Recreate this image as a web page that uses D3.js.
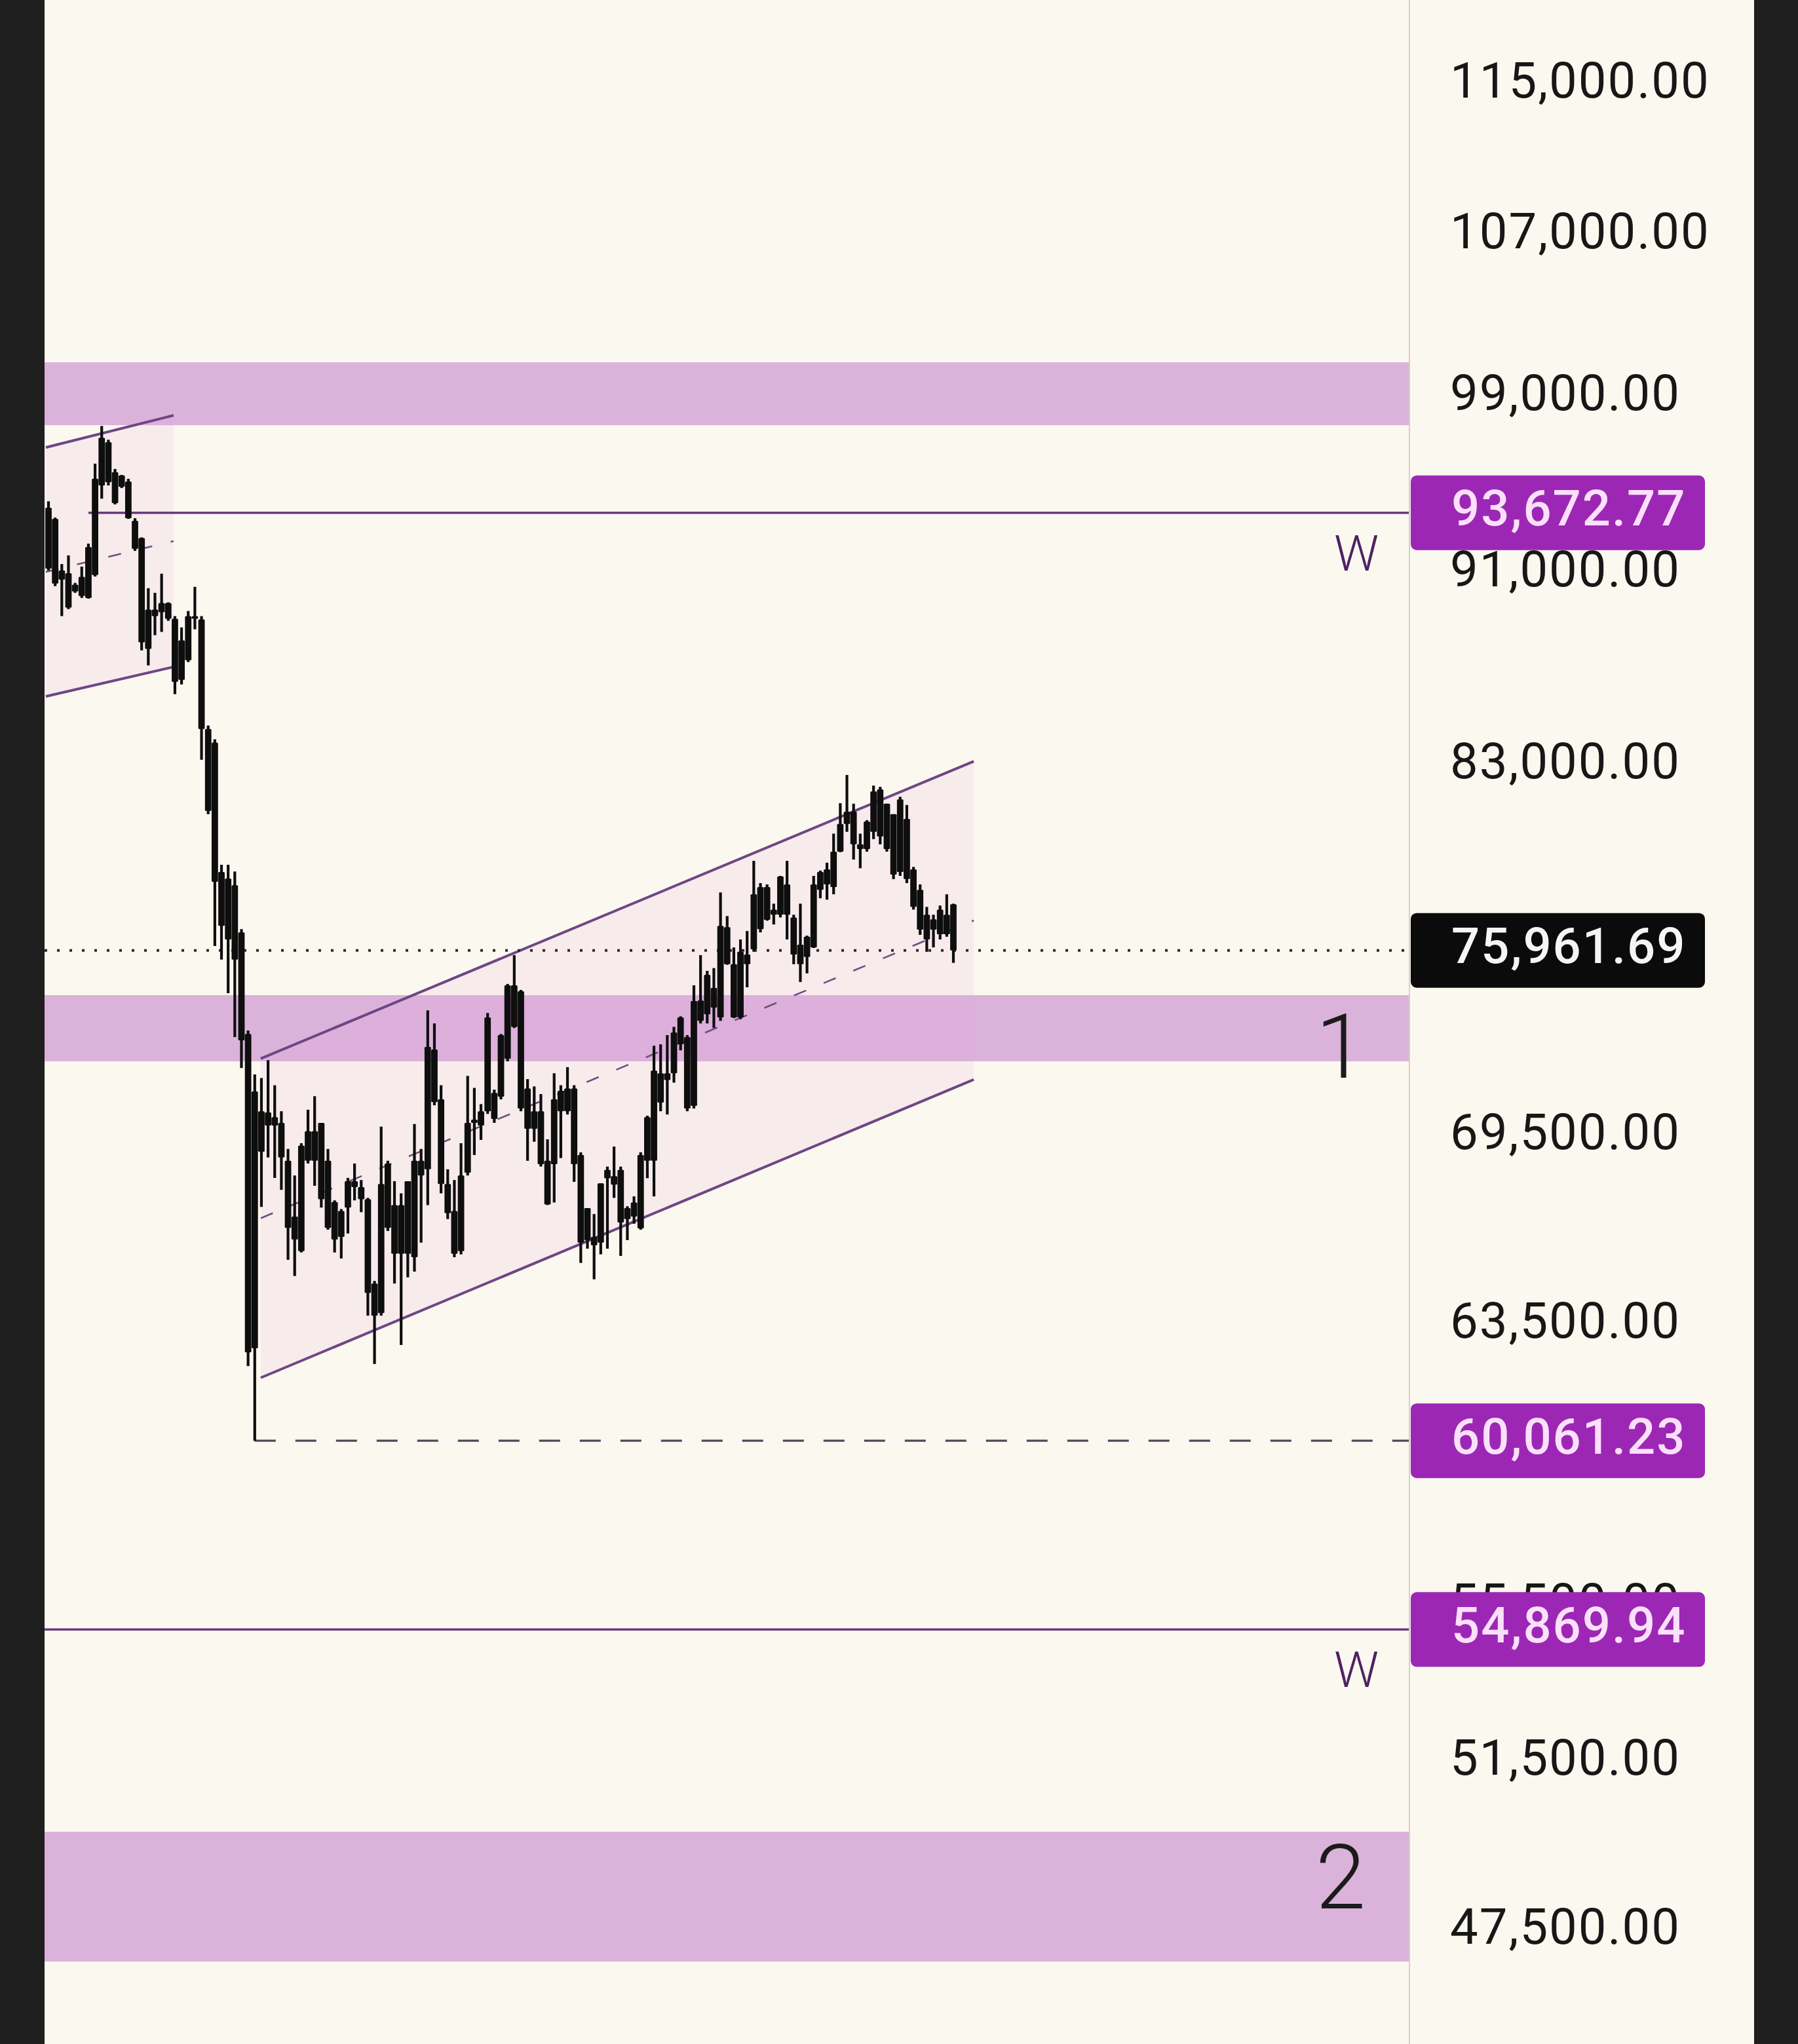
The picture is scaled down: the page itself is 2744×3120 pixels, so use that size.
<!DOCTYPE html>
<html><head><meta charset="utf-8">
<script src="https://cdn.jsdelivr.net/npm/d3@7/dist/d3.min.js"></script>
<style>html,body{margin:0;padding:0;background:#1f1f1f;}svg{display:block;}</style>
</head><body>
<script>
// ---------------- DATA ----------------
const opens = [
93900,90550,91120,89510,90500,90010,89930,90920,94910,96890,94110,95360,95090,93310,92550,87760,89430,89320,89710,89040,86470,87290,89150,89010,84460,83910,78870,76360,78370,76620,72980,62780,
70330,69850,70130,69940,68680,66140,65770,69660,68680,69940,66510,67340,66220,67160,68010,67820,67430,64760,63850,68590,65690,67240,65690,65580,68680,68400,72440,70730,67920,67050,65770,68290,69940,69850,70330,70950,
70820,72120,74700,74490,69740,70330,70330,68680,68570,70330,71100,71100,68870,67140,66220,66040,68110,68180,68380,66790,67320,66490,68680,68680,71620,71390,71620,73560,72870,70510,74160,73670,74610,
73560,76810,75460,73560,75810,76000,78300,77080,77460,77270,78400,77170,75460,76460,76070,78200,78970,78300,79640,80700,81180,79920,79740,80400,82050,79740,81080,78870,80900,78970,78200,77270,76720,77460,76550,77660];
const highs = [
94190,93460,91400,91780,90580,91290,92300,95900,97650,97010,95660,95390,95210,93430,92580,90350,90150,90980,89740,89150,88670,89370,90410,89150,84600,84040,79140,79140,78890,76740,73100,71580,
71460,72070,71210,70330,69070,68200,69260,70380,70840,69940,69070,67390,67110,68120,68590,68050,67470,64840,69810,68680,68010,67620,68010,69900,69070,73810,73350,71210,68400,68050,69260,71530,71120,70570,73720,71060,
72980,74750,75790,74540,71420,71170,70910,69390,71620,71210,71830,71210,68960,67140,66950,67940,68490,69150,68490,67200,67520,68960,70180,72570,72620,72940,73230,73600,72940,74700,75790,75220,75320,
78100,77220,76070,76360,76670,79290,78450,78400,77680,78720,79290,77270,77680,76500,78720,78920,79220,80330,81510,82620,81490,80330,80850,82200,82150,81490,81080,81760,81440,79060,78400,77560,77270,77610,78030,77680];
const lows = [
91120,90440,89150,89450,90150,89930,89900,90860,94310,94910,94050,94790,93400,91980,87700,87070,88340,88480,88950,85880,86280,87210,88590,83220,81080,76120,75630,74420,72870,71800,62250,60061.23,
67180,68790,68120,67730,65500,64990,65730,68590,67860,67160,66450,65730,65540,66330,67390,67010,63770,62310,63770,66410,64760,62880,64950,65130,66040,67240,70530,67620,66790,65580,65670,68200,68870,69370,70240,69940,
70730,72030,73190,70330,68680,69310,68490,67240,67320,68770,70220,67990,65400,65850,64890,65670,65850,67470,65620,66120,66640,66450,68110,67520,70330,70220,71300,72410,70330,70420,73350,73350,73190,
73440,75440,73540,73500,74630,75910,76620,77050,76910,77170,76360,75460,74820,75130,76050,77880,77830,78030,79620,80400,79340,79010,79640,80120,79920,79640,78600,78720,78450,77460,76530,75910,76070,76360,76460,75510];
const closes = [
91200,93400,90720,91000,90210,90840,92150,95210,97100,95060,95510,94850,93430,92070,88040,89430,89150,89710,89040,86390,88120,89150,89040,84460,81210,78500,76860,78620,75630,72760,62660,71000,
68980,70290,69850,68790,66510,66870,69180,68680,69660,67430,68680,66140,67050,68010,67820,67430,64470,63770,67920,66510,67240,65690,68010,68680,68200,72530,70640,67920,66980,65690,68200,69940,70050,70330,73560,70070,
72940,74700,73230,70420,71100,69740,68570,67260,70730,71020,70330,68570,66040,66120,65960,67940,68380,67900,66680,67140,66870,68870,70130,71710,70620,71620,73030,72620,70420,74140,73440,75080,73910,
76860,75460,73560,75910,75460,78030,76740,78300,77270,78700,77270,75810,76170,75720,78400,78870,78400,79640,80700,81180,79920,79740,80800,81970,80220,81490,78770,81660,78600,77560,76720,76360,77100,76550,77270,75961.69];

const axisTicks = [115000,107000,99000,91000,83000,69500,63500,55500,51500,47500,44500];

const zoneLow  = [97688, 72033, 46804];
const zoneHigh = [100675, 74351, 49804];
const zoneNames = ["", "1", "2"];

// parallel channels: start/end bar index and prices of top & bottom rails
const chStart = [-0.4, 31.9];
const chEnd   = [18.8, 139.06];
const chTopStart = [96650, 72124];
const chTopEnd   = [98148, 83161];
const chBotStart = [85789, 61902];
const chBotEnd   = [87009, 71403];

// horizontal levels
const levelValues = [93672.77, 54869.94];
const levelStartBar = [6, -1];
const levelTags = ["W", "W"];
const lastPrice = 75961.69;
const swingLow = 60061.23;
const swingLowBar = 31;
const badgeValues = [93672.77, 75961.69, 60061.23, 54869.94];
const badgeKinds  = ["level", "last", "level", "level"];

// ---------------- LAYOUT ----------------
const W = 2744, H = 3120;
const plotL = 68, plotR = 2150, panelR = 2677;
const fmt = d3.format(",.2f");

const y = d3.scaleLog().domain([115000, 47500]).range([129, 2947]);
const x = d3.scaleLinear().domain([0, opens.length - 1]).range([74, 1455]);

const svg = d3.select("body").append("svg").attr("width", W).attr("height", H)
  .style("font-family", "Roboto, 'Noto Sans', sans-serif");

svg.append("rect").attr("width", W).attr("height", H).attr("fill", "#1f1f1f");
svg.append("rect").attr("x", plotL).attr("y", 0).attr("width", panelR - plotL).attr("height", H).attr("fill", "#fbf8ef");

const defs = svg.append("defs");
defs.append("clipPath").attr("id", "plotClip").append("rect")
  .attr("x", plotL).attr("y", 0).attr("width", plotR - plotL).attr("height", H);

const plot = svg.append("g").attr("clip-path", "url(#plotClip)");

// zones
plot.selectAll("rect.zone").data(d3.range(zoneLow.length)).join("rect")
  .attr("class", "zone")
  .attr("x", plotL).attr("width", plotR - plotL)
  .attr("y", i => y(zoneHigh[i]))
  .attr("height", i => y(zoneLow[i]) - y(zoneHigh[i]))
  .attr("fill", "#dbb2da");

// channels
const chIdx = d3.range(chStart.length);
plot.selectAll("path.chfill").data(chIdx).join("path")
  .attr("d", i => `M${x(chStart[i])},${y(chTopStart[i])}L${x(chEnd[i])},${y(chTopEnd[i])}L${x(chEnd[i])},${y(chBotEnd[i])}L${x(chStart[i])},${y(chBotStart[i])}Z`)
  .attr("fill", "rgba(228,165,222,0.16)");

chIdx.forEach(i => {
  const rails = [[chTopStart[i], chTopEnd[i]], [chBotStart[i], chBotEnd[i]]];
  rails.forEach(r => {
    plot.append("line")
      .attr("x1", x(chStart[i])).attr("y1", y(r[0]))
      .attr("x2", x(chEnd[i])).attr("y2", y(r[1]))
      .attr("stroke", "#6e4684").attr("stroke-width", 4);
  });
  const midS = Math.sqrt(chTopStart[i] * chBotStart[i]);
  const midE = Math.sqrt(chTopEnd[i] * chBotEnd[i]);
  plot.append("line")
    .attr("x1", x(chStart[i])).attr("y1", y(midS))
    .attr("x2", x(chEnd[i])).attr("y2", y(midE))
    .attr("stroke", "#6f4f80").attr("stroke-width", 2.6)
    .attr("stroke-dasharray", "20,29");
});

// horizontal levels
levelValues.forEach((v, i) => {
  plot.append("line")
    .attr("x1", Math.max(plotL, x(levelStartBar[i]))).attr("x2", plotR)
    .attr("y1", y(v)).attr("y2", y(v))
    .attr("stroke", "#683c7a").attr("stroke-width", 3.6);
});
// last price dotted line
plot.append("line")
  .attr("x1", plotL).attr("x2", plotR)
  .attr("y1", y(lastPrice)).attr("y2", y(lastPrice))
  .attr("stroke", "#2e2a2c").attr("stroke-width", 4)
  .attr("stroke-dasharray", "4,15");
// swing low dashed line
plot.append("line")
  .attr("x1", x(swingLowBar)).attr("x2", plotR)
  .attr("y1", y(swingLow)).attr("y2", y(swingLow))
  .attr("stroke", "#54455a").attr("stroke-width", 3.2)
  .attr("stroke-dasharray", "32,30");

// candles
const idx = d3.range(opens.length);
const cg = plot.append("g");
cg.selectAll("line.wick").data(idx).join("line")
  .attr("x1", i => x(i)).attr("x2", i => x(i))
  .attr("y1", i => y(highs[i])).attr("y2", i => y(lows[i]))
  .attr("stroke", "#0e0e0e").attr("stroke-width", 4.2);
cg.selectAll("rect.body").data(idx).join("rect")
  .attr("x", i => x(i) - 4.9).attr("width", 9.8)
  .attr("y", i => y(Math.max(opens[i], closes[i])))
  .attr("height", i => Math.max(3, Math.abs(y(opens[i]) - y(closes[i]))))
  .attr("rx", 1.5)
  .attr("fill", "#0e0e0e");

// level tags "W"
levelValues.forEach((v, i) => {
  svg.append("text").attr("x", 2070).attr("y", y(v) + 88)
    .attr("text-anchor", "middle").attr("font-size", 76).attr("font-weight", 300)
    .attr("fill", "#4e2264").text(levelTags[i]);
});
// zone numbers
zoneNames.forEach((t, i) => {
  if (!t) return;
  const mid = Math.sqrt(zoneLow[i] * zoneHigh[i]);
  svg.append("text").attr("x", 2046).attr("y", y(mid) + (i === 1 ? 76 : 18))
    .attr("text-anchor", "middle").attr("font-size", 138).attr("font-weight", 300)
    .attr("fill", "#1b1b1b").text(t);
});

// axis divider
svg.append("line").attr("x1", plotR + 1).attr("x2", plotR + 1).attr("y1", 0).attr("y2", H)
  .attr("stroke", "#d6d0c6").attr("stroke-width", 2);

// price axis (labels sit slightly above their tick, as in the reference)
const axisG = svg.append("g").attr("transform", "translate(2213,0)")
  .call(d3.axisRight(y).tickValues(axisTicks).tickFormat(fmt).tickSize(0).tickPadding(0));
axisG.select(".domain").remove();
axisG.selectAll("text")
  .attr("font-size", 76).attr("font-family", "Roboto, sans-serif")
  .attr("fill", "#171717").attr("letter-spacing", 2)
  .attr("y", -8).attr("dy", "0.36em");

// price badges
const bg = svg.append("g");
badgeValues.forEach((v, i) => {
  const last = badgeKinds[i] === "last";
  bg.append("rect").attr("x", plotR + 3).attr("width", 449)
    .attr("y", y(v) - 57).attr("height", 114).attr("rx", 9)
    .attr("fill", last ? "#0b0b0b" : "#9d27b5");
  bg.append("text").attr("x", 2215).attr("y", y(v) - 8).attr("dy", "0.36em")
    .attr("font-size", 76).attr("font-weight", 500).attr("letter-spacing", 2)
    .attr("fill", last ? "#f5f5f5" : "#fbe0fb").text(fmt(v));
});
</script>
</body></html>
